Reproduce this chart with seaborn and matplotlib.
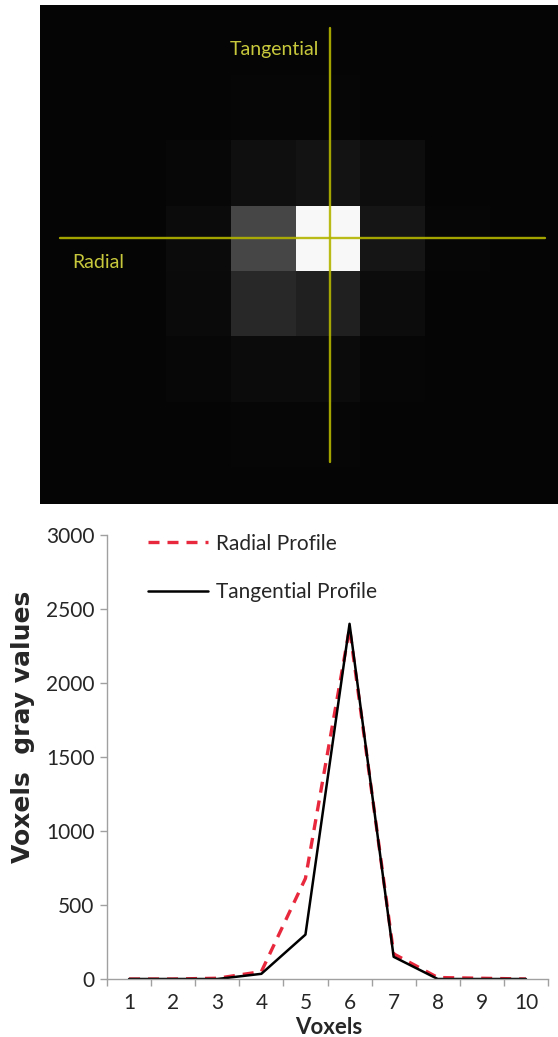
import numpy as np
import pandas as pd
import matplotlib
matplotlib.use("Agg")
import matplotlib.pyplot as plt
import seaborn as sns

# ---------------- data ----------------
voxels = [1, 2, 3, 4, 5, 6, 7, 8, 9, 10]
radial_profile = [0, 0, 5, 50, 680, 2370, 170, 10, 5, 0]
tangential_profile = [0, 0, 0, 35, 300, 2400, 150, 0, 0, 0]
y_ticks = [0, 500, 1000, 1500, 2000, 2500, 3000]
series_names = ["Radial Profile", "Tangential Profile"]
image_labels = ["Tangential", "Radial"]

# gray levels (0-255) of the point-spread image, rows top->bottom
psf_gray = [
    [5, 5, 6, 6, 5, 5],
    [5, 7, 15, 19, 13, 5],
    [5, 11, 70, 248, 21, 6],
    [5, 10, 41, 33, 12, 5],
    [5, 7, 11, 11, 6, 5],
    [5, 5, 6, 6, 5, 5],
]

# ---------------- style ----------------
sns.set_theme(style="ticks")
plt.rcParams["font.family"] = ["Lato", "DejaVu Sans"]

W, H = 558, 1037
fig = plt.figure(figsize=(W / 100, H / 100), dpi=100)
fig.patch.set_facecolor("white")


def fig_rect(x0, y0, x1, y1):
    return [x0 / W, 1 - y1 / H, (x1 - x0) / W, (y1 - y0) / H]


# ---------------- top: image ----------------
ax_img = fig.add_axes(fig_rect(39.5, 5, 558, 504))
ax_img.set_facecolor("#050505")
ax_img.imshow(np.array(psf_gray), cmap="gray", vmin=0, vmax=255,
              extent=(102, 490, 467, 76), interpolation="nearest", aspect="auto")
ax_img.set_xlim(39.5, 558)
ax_img.set_ylim(504, 5)
ax_img.set_xticks([])
ax_img.set_yticks([])
for s in ax_img.spines.values():
    s.set_visible(False)

line_col = "#b4b400"
ax_img.plot([60, 545], [238, 238], color=line_col, lw=1.7, alpha=0.9)
ax_img.plot([330, 330], [28, 462], color=line_col, lw=1.7, alpha=0.9)
ax_img.text(319, 49, image_labels[0], color="#c8c83c", fontsize=14,
            ha="right", va="center")
ax_img.text(72, 263, image_labels[1], color="#c8c83c", fontsize=14,
            ha="left", va="center")

# ---------------- bottom: profiles ----------------
ax = fig.add_axes(fig_rect(107, 535, 548, 979))
df = pd.DataFrame({"Voxels": voxels, "Radial": radial_profile,
                   "Tangential": tangential_profile})

sns.lineplot(data=df, x="Voxels", y="Radial", ax=ax, color="#e8283c",
             lw=2.4, linestyle=(0, (3.3, 2.4)), label=series_names[0])
sns.lineplot(data=df, x="Voxels", y="Tangential", ax=ax, color="black",
             lw=1.8, label=series_names[1])

ax.set_xlim(0.5, 10.5)
ax.set_ylim(0, 3000)
ax.set_xticks(voxels)
ax.set_xticklabels([str(v) for v in voxels])
ax.set_xticks(np.arange(0.5, 11, 1.0), minor=True)
ax.set_yticks(y_ticks)
ax.set_yticklabels([str(v) for v in y_ticks])

axis_gray = "#a0a0a0"
for side in ["top", "right"]:
    ax.spines[side].set_visible(False)
for side in ["left", "bottom"]:
    ax.spines[side].set_color(axis_gray)
    ax.spines[side].set_linewidth(1.0)

ax.tick_params(axis="x", which="major", length=0, pad=10, labelsize=15,
               labelcolor="#262626")
ax.tick_params(axis="x", which="minor", length=5, width=1, color=axis_gray,
               direction="out")
ax.tick_params(axis="y", which="major", length=5, width=1, color=axis_gray,
               direction="out", pad=4, labelsize=15, labelcolor="#262626")

ax.set_xlabel("Voxels", fontsize=16, fontweight="bold", color="#262626")
ax.xaxis.set_label_coords(0.503, -0.086)
ax.set_ylabel("Voxels  gray values", fontsize=18, fontweight="bold",
              color="#262626", family="DejaVu Sans")
ax.yaxis.set_label_coords(-0.163, 0.567)

leg = ax.legend(loc="upper left", bbox_to_anchor=(0.093, 1.003), frameon=False,
                handlelength=2.9, handletextpad=0.38, labelspacing=1.38,
                borderpad=0, borderaxespad=0, fontsize=15)
for t in leg.get_texts():
    t.set_color("#262626")

fig.savefig("out.png", dpi=100, facecolor="white")
